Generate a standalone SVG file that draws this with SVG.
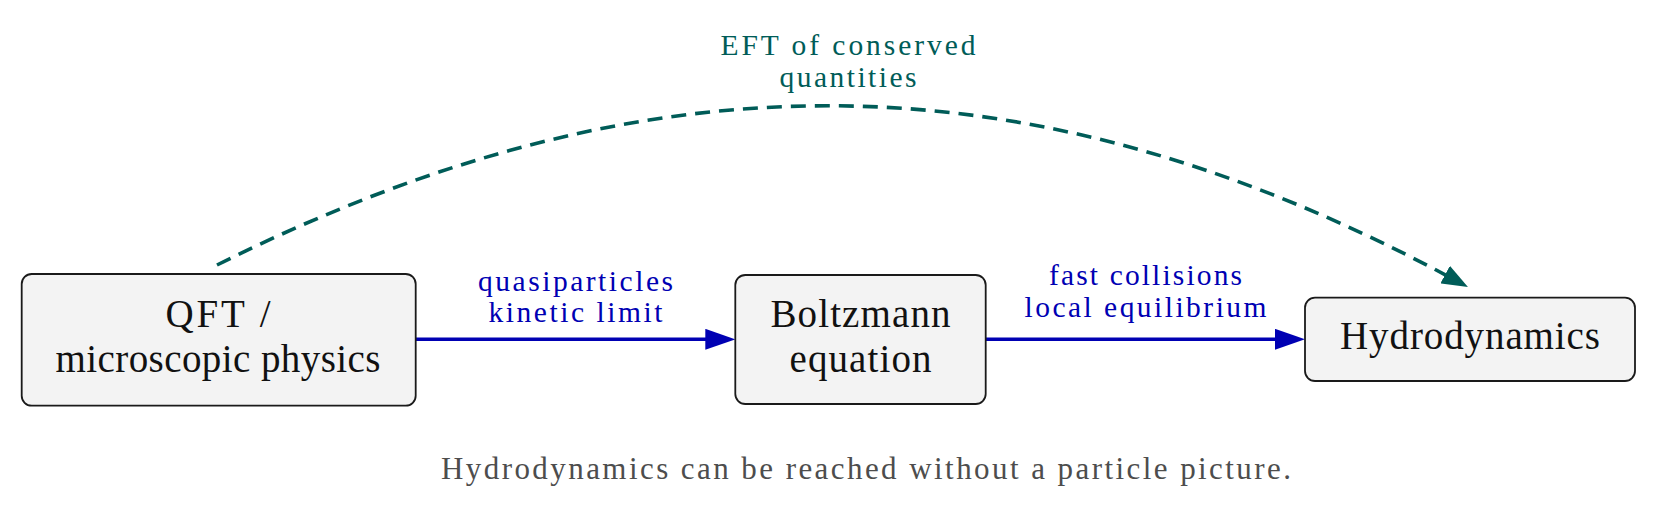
<svg xmlns="http://www.w3.org/2000/svg" width="1656" height="521" viewBox="0 0 1656 521">
<style>
.box{fill:#f3f3f3;stroke:#1a1a1a;stroke-width:1.8}
.nt{font-family:"Liberation Serif","Times New Roman",serif;font-size:39px;fill:#111;text-anchor:middle}
.lb{font-family:"Liberation Serif","Times New Roman",serif;font-size:29.5px;fill:#0000b3;text-anchor:middle}
.tl{font-family:"Liberation Serif","Times New Roman",serif;font-size:29.5px;fill:#005c58;text-anchor:middle}
.cap{font-family:"Liberation Serif","Times New Roman",serif;font-size:31px;fill:#4d4d4d;text-anchor:middle}
.blue{fill:none;stroke:#0000b3;stroke-width:3.5}
.teal{fill:none;stroke:#005c58;stroke-width:3.6;stroke-dasharray:15 9}
</style>
<defs>
<marker id="ab" markerUnits="userSpaceOnUse" markerWidth="30" markerHeight="21" refX="22" refY="10.5" orient="auto" viewBox="0 0 30 21">
<path d="M0,0 L30,10.5 L0,21 z" fill="#0000b3"/>
</marker>
<marker id="at" markerUnits="userSpaceOnUse" markerWidth="26" markerHeight="20" refX="19" refY="10" orient="auto" viewBox="0 0 26 20">
<path d="M0,0 L26,10 L0,20 z" fill="#005c58"/>
</marker>
</defs>
<g id="connectors">
<path class="blue" d="M415.7,339.3 L727.3,339.3" marker-end="url(#ab)"/>
<path class="blue" d="M985.7,339.3 L1297,339.3" marker-end="url(#ab)"/>
<path class="teal" d="M217,265 C655,46.5 1038,53 1461.8,283.7" marker-end="url(#at)"/>
<text class="lb" x="575.5" y="291" textLength="195" lengthAdjust="spacing">quasiparticles</text>
<text class="lb" x="575.5" y="322" textLength="174" lengthAdjust="spacing">kinetic limit</text>
<text class="lb" x="1145.5" y="285" textLength="193" lengthAdjust="spacing">fast collisions</text>
<text class="lb" x="1145.5" y="317" textLength="242" lengthAdjust="spacing">local equilibrium</text>
<text class="tl" x="848" y="55" textLength="255" lengthAdjust="spacing">EFT of conserved</text>
<text class="tl" x="848" y="86.7" textLength="137" lengthAdjust="spacing">quantities</text>
</g>
<g id="qft">
<rect class="box" x="21.7" y="274" width="394" height="131.7" rx="10"/>
<text class="nt" x="218" y="327" textLength="105" lengthAdjust="spacing">QFT /</text>
<text class="nt" x="218" y="372" textLength="325" lengthAdjust="spacing">microscopic physics</text>
</g>
<g id="boltzmann">
<rect class="box" x="735.3" y="275" width="250.4" height="129" rx="10"/>
<text class="nt" x="860.5" y="327" textLength="180" lengthAdjust="spacing">Boltzmann</text>
<text class="nt" x="860.5" y="372" textLength="142" lengthAdjust="spacing">equation</text>
</g>
<g id="hydro">
<rect class="box" x="1305" y="297.7" width="330" height="83.3" rx="10"/>
<text class="nt" x="1470" y="349" textLength="260" lengthAdjust="spacing">Hydrodynamics</text>
</g>
<g id="caption">
<text class="cap" x="866" y="479" textLength="850" lengthAdjust="spacing">Hydrodynamics can be reached without a particle picture.</text>
</g>
</svg>
